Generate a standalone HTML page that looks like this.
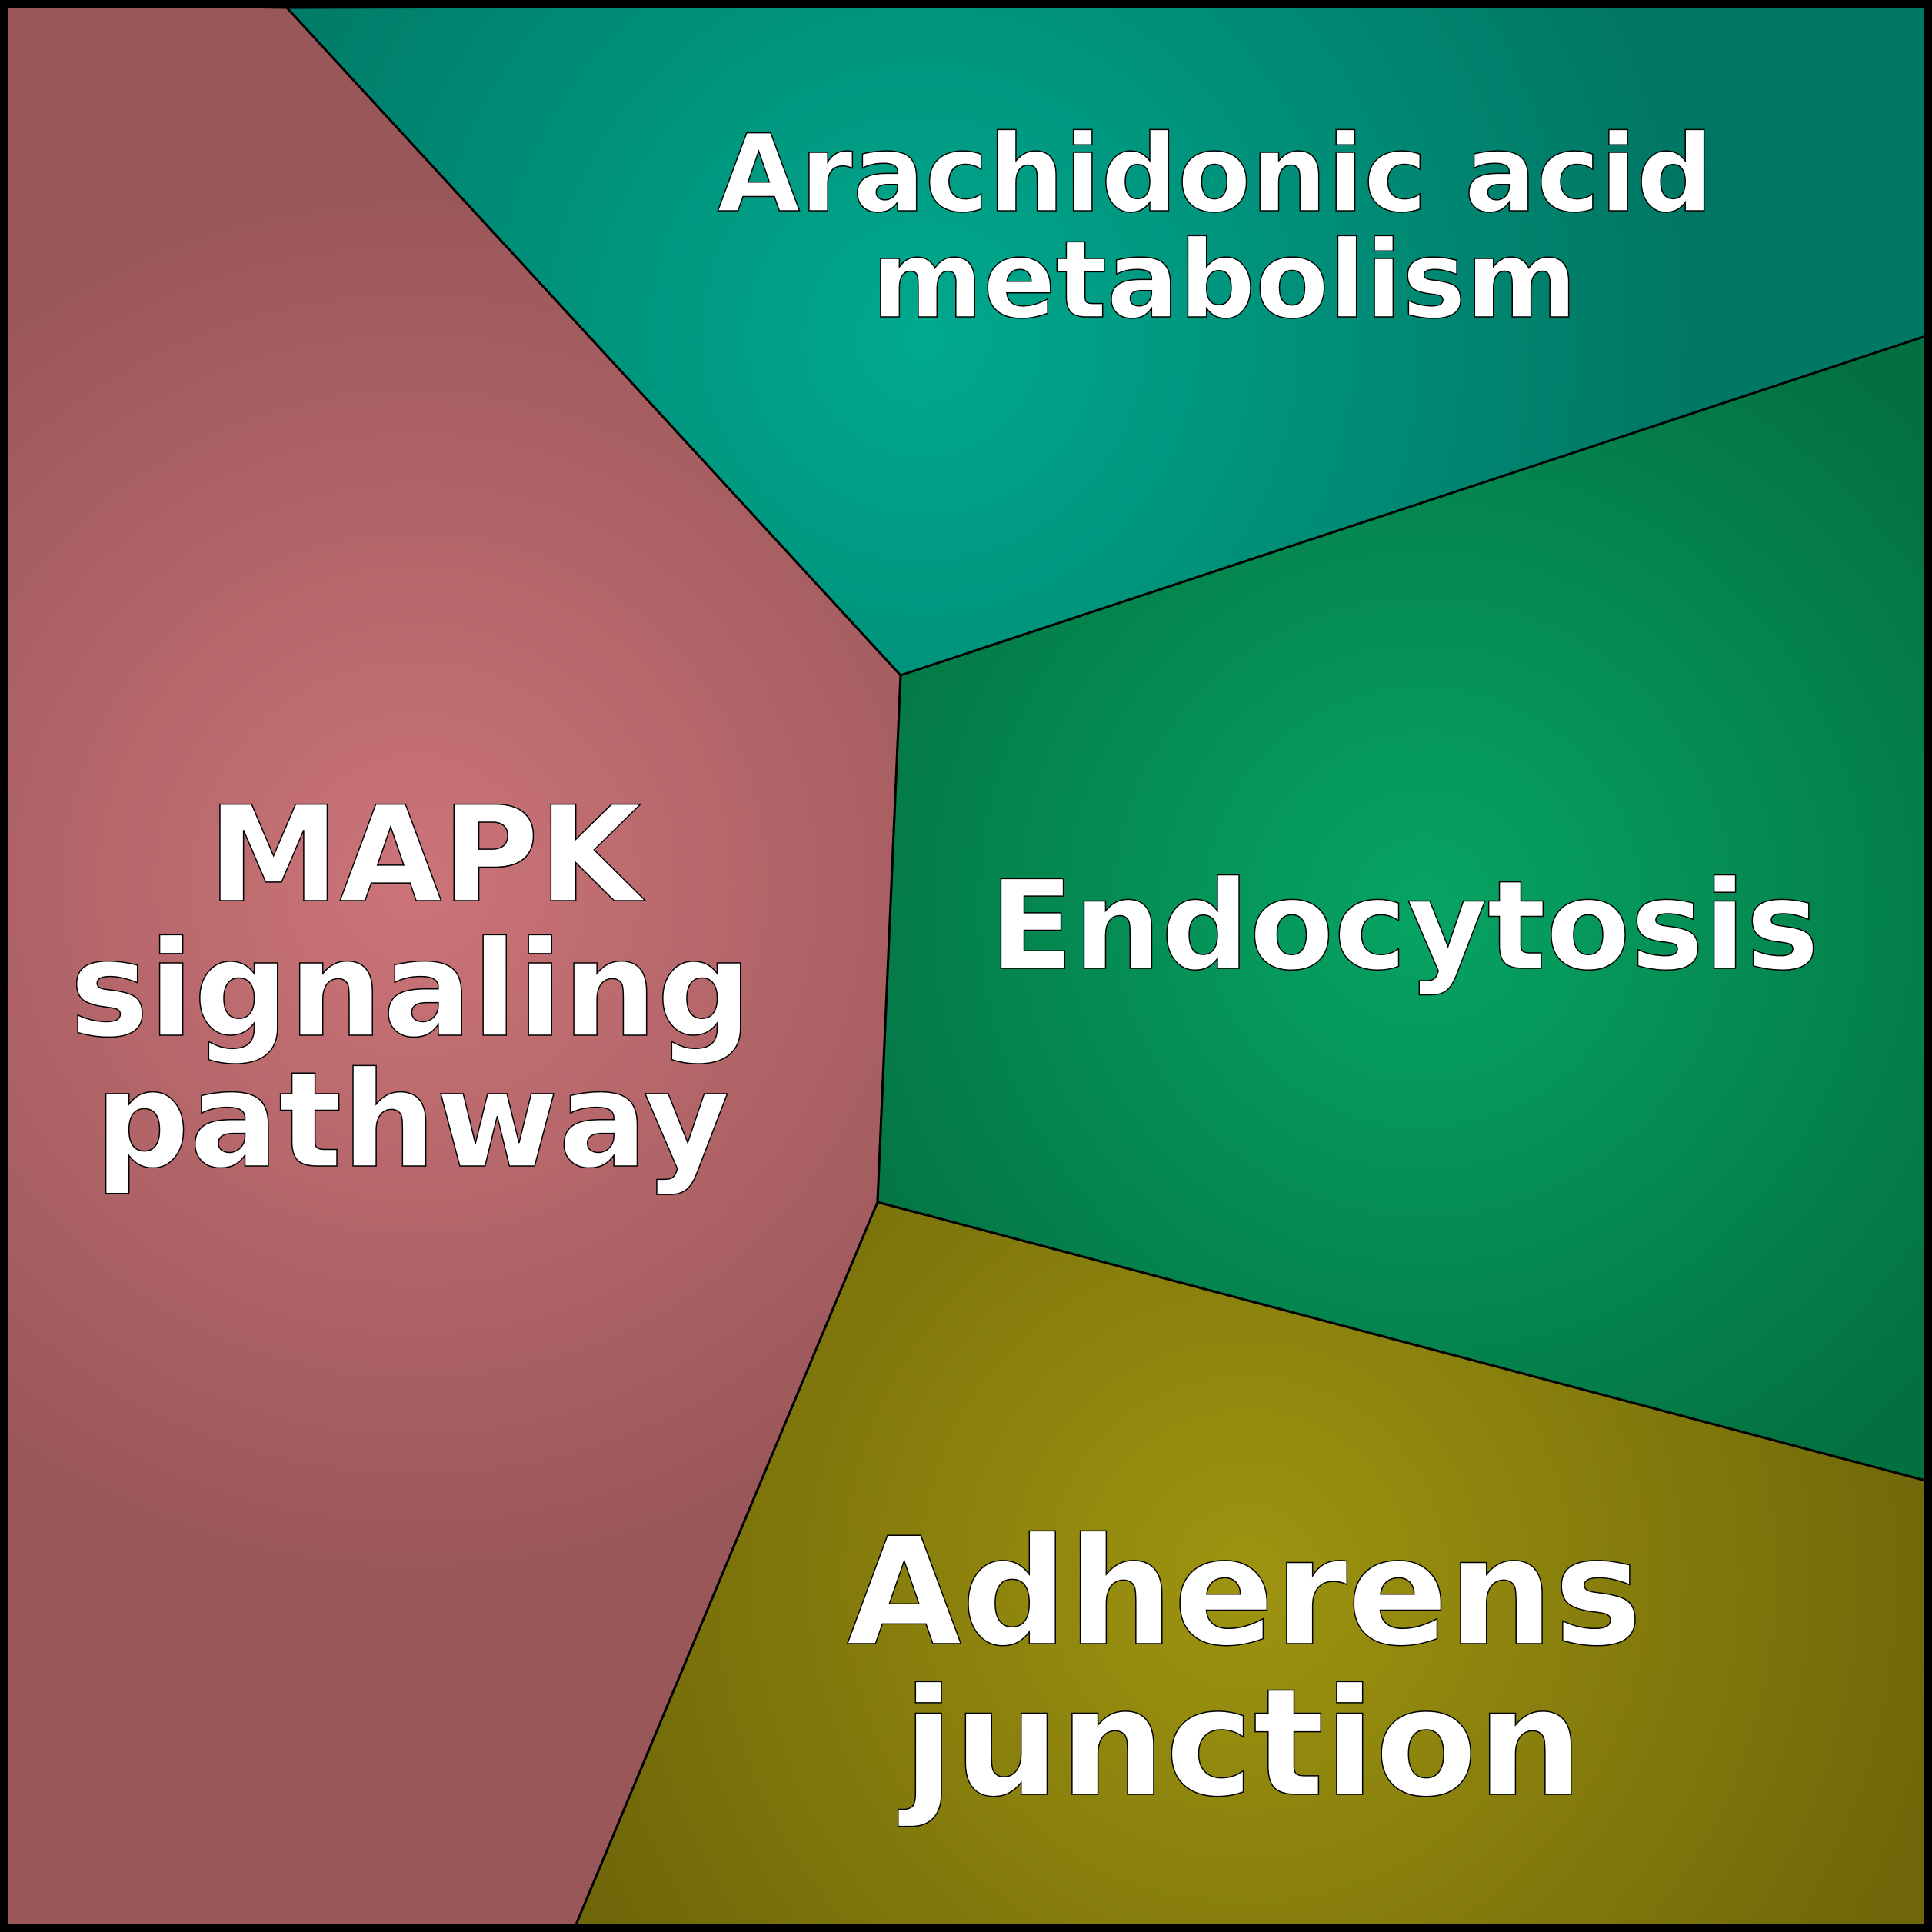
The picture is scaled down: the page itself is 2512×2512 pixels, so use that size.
<!DOCTYPE html>
<html><head><style>html,body{margin:0;padding:0;background:#fff}svg{display:block}</style></head>
<body>
<svg width="2512" height="2512" viewBox="0 0 2512 2512" xmlns="http://www.w3.org/2000/svg">
<defs>
<radialGradient id="gp" gradientUnits="userSpaceOnUse" cx="540" cy="1150" r="900"><stop offset="0" stop-color="#cc7479"/><stop offset="1" stop-color="#9a5759"/></radialGradient>
<radialGradient id="gt" gradientUnits="userSpaceOnUse" cx="1200" cy="440" r="1000"><stop offset="0" stop-color="#00a98e"/><stop offset="1" stop-color="#007764"/></radialGradient>
<radialGradient id="gg" gradientUnits="userSpaceOnUse" cx="1850" cy="1180" r="900"><stop offset="0" stop-color="#06a464"/><stop offset="1" stop-color="#037040"/></radialGradient>
<radialGradient id="go" gradientUnits="userSpaceOnUse" cx="1620" cy="2050" r="950"><stop offset="0" stop-color="#9e9410"/><stop offset="1" stop-color="#6e6609"/></radialGradient>
</defs>
<g stroke="#000" stroke-width="3">
<polygon points="5,5 373,10 1171,878 1141,1563 747,2507 5,2507" fill="url(#gp)"/>
<polygon points="373,10 2507,5 2507,436 1171,878" fill="url(#gt)"/>
<polygon points="1171,878 2507,436 2507,1926 1141,1563" fill="url(#gg)"/>
<polygon points="1141,1563 2507,1926 2507,2507 747,2507" fill="url(#go)"/>
</g>
<rect x="5" y="5" width="2502" height="2502" fill="none" stroke="#000" stroke-width="10"/>
<g font-family="'DejaVu Sans','Liberation Sans',sans-serif" font-weight="bold" fill="#fff" stroke="#000" stroke-width="1.5" text-anchor="middle">
<text x="1580" y="274" font-size="139">Arachidonic acid</text>
<text x="1592" y="412" font-size="139">metabolism</text>
<text x="552" y="1171" font-size="172">MAPK</text>
<text x="534" y="1346" font-size="172">signaling</text>
<text x="536" y="1516" font-size="172">pathway</text>
<text x="1826" y="1259" font-size="160">Endocytosis</text>
<text x="1618" y="2137" font-size="193">Adherens</text>
<text x="1616" y="2333" font-size="193">junction</text>
</g>
</svg>
</body></html>
